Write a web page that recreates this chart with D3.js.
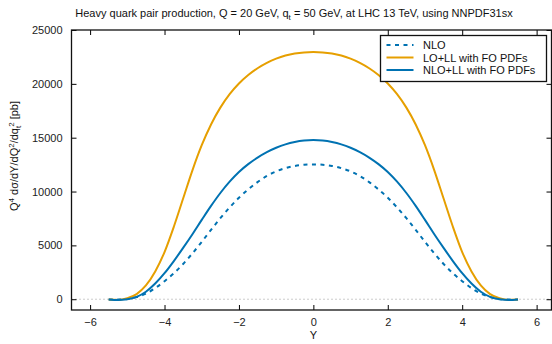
<!DOCTYPE html>
<html>
<head>
<meta charset="utf-8">
<script src="https://cdn.jsdelivr.net/npm/d3@7"></script>
<style>
  body { margin: 0; background: #fff; }
  svg { display: block; font-family: "Liberation Sans", Arial, sans-serif; }
</style>
</head>
<body>
<svg id="chart" width="552" height="344"></svg>
<script>
// Rapidity grid
const rapidity = [-5.5, -5.25, -5, -4.75, -4.5, -4.25, -4, -3.75, -3.5, -3.25, -3, -2.75, -2.5, -2.25, -2, -1.75, -1.5, -1.25, -1, -0.75, -0.5, -0.25,
  0, 0.25, 0.5, 0.75, 1, 1.25, 1.5, 1.75, 2, 2.25, 2.5, 2.75, 3, 3.25, 3.5, 3.75, 4, 4.25, 4.5, 4.75, 5, 5.25, 5.5];

// Series (pb)
const nlo = [-15, -35, 25, 195, 525, 1035, 1675, 2415, 3275, 4255, 5325, 6445, 7525, 8525, 9425, 10195, 10875, 11445, 11875, 12170, 12375, 12485,
  12520, 12485, 12375, 12170, 11875, 11445, 10875, 10195, 9425, 8525, 7525, 6445, 5325, 4255, 3275, 2415, 1675, 1035, 525, 195, 25, -35, -15];
const loll = [-20, -60, 100, 480, 1280, 2580, 4380, 6730, 9350, 11970, 14300, 16230, 17790, 19040, 20030, 20820, 21450, 21950, 22340, 22630, 22820, 22920,
  22950, 22920, 22820, 22630, 22340, 21950, 21450, 20820, 20030, 19040, 17790, 16230, 14300, 11970, 9350, 6730, 4380, 2580, 1280, 480, 100, -60, -20];
const nloll = [-15, -65, -5, 215, 695, 1455, 2415, 3545, 4765, 6035, 7365, 8665, 9865, 10915, 11815, 12545, 13155, 13660, 14065, 14380, 14600, 14735,
  14780, 14735, 14600, 14380, 14065, 13660, 13155, 12545, 11815, 10915, 9865, 8665, 7365, 6035, 4765, 3545, 2415, 1455, 695, 215, -5, -65, -15];

const seriesNames = ['NLO', 'LO+LL with FO PDFs', 'NLO+LL with FO PDFs'];
const xTicks = [-6, -4, -2, 0, 2, 4, 6];
const yTicks = [0, 5000, 10000, 15000, 20000, 25000];

const svg = d3.select('#chart');
const frame = { left: 71.5, right: 551.5, top: 30, bottom: 310 };

const x = d3.scaleLinear().domain([-6.5, 6.4]).range([frame.left, frame.right]);
const y = d3.scaleLinear().domain([-1000, 25000]).range([frame.bottom, frame.top]);

const series = [
  { name: seriesNames[0], values: nlo, color: '#0072B2', dash: '4,4.5' },
  { name: seriesNames[1], values: loll, color: '#E69F00', dash: null },
  { name: seriesNames[2], values: nloll, color: '#0072B2', dash: null }
];

svg.append('defs').append('clipPath').attr('id', 'clip')
  .append('rect')
  .attr('x', frame.left).attr('y', frame.top)
  .attr('width', frame.right - frame.left).attr('height', frame.bottom - frame.top);

// zero line
svg.append('line')
  .attr('x1', frame.left).attr('x2', frame.right)
  .attr('y1', y(0)).attr('y2', y(0))
  .attr('stroke', '#999').attr('stroke-width', 1)
  .attr('stroke-dasharray', '1,3');

// curves
const line = d3.line()
  .x((d, i) => x(rapidity[i]))
  .y(d => y(d))
  .curve(d3.curveMonotoneX);

const curves = svg.append('g').attr('clip-path', 'url(#clip)');
series.forEach(s => {
  curves.append('path')
    .attr('d', line(s.values))
    .attr('fill', 'none')
    .attr('stroke', s.color)
    .attr('stroke-width', 2)
    .attr('stroke-dasharray', s.dash);
});

// axes (ticks inward, mirrored)
const tickFont = g => g.selectAll('text')
  .attr('font-size', 11).attr('fill', '#222')
  .attr('font-family', '"Liberation Sans", Arial, sans-serif');

svg.append('g')
  .attr('transform', `translate(0,${frame.bottom})`)
  .call(d3.axisBottom(x).tickValues(xTicks).tickSizeInner(-5).tickSizeOuter(0).tickPadding(8))
  .call(g => g.select('.domain').remove())
  .call(tickFont);

svg.append('g')
  .attr('transform', `translate(0,${frame.top})`)
  .call(d3.axisTop(x).tickValues(xTicks).tickSizeInner(-5).tickSizeOuter(0).tickFormat(''))
  .call(g => g.select('.domain').remove());

svg.append('g')
  .attr('transform', `translate(${frame.left},0)`)
  .call(d3.axisLeft(y).tickValues(yTicks).tickSizeInner(-5).tickSizeOuter(0).tickPadding(9).tickFormat(d3.format('d')))
  .call(g => g.select('.domain').remove())
  .call(tickFont);

svg.append('g')
  .attr('transform', `translate(${frame.right},0)`)
  .call(d3.axisRight(y).tickValues(yTicks).tickSizeInner(-5).tickSizeOuter(0).tickFormat(''))
  .call(g => g.select('.domain').remove());

svg.append('rect')
  .attr('x', frame.left).attr('y', frame.top)
  .attr('width', frame.right - frame.left).attr('height', frame.bottom - frame.top)
  .attr('fill', 'none').attr('stroke', '#111').attr('stroke-width', 1.3);

// title
const title = svg.append('text')
  .attr('x', 294).attr('y', 17)
  .attr('text-anchor', 'middle')
  .attr('font-size', 11).attr('fill', '#111');
title.append('tspan').text('Heavy quark pair production, Q = 20 GeV, q');
title.append('tspan').attr('font-size', 8).attr('dy', 3).text('t');
title.append('tspan').attr('dy', -3).text(' = 50 GeV, at LHC 13 TeV, using NNPDF31sx');

// axis labels
svg.append('text')
  .attr('x', x(0)).attr('y', 339)
  .attr('text-anchor', 'middle')
  .attr('font-size', 11).attr('fill', '#111')
  .text('Y');

const ylab = svg.append('text')
  .attr('transform', 'translate(18,156) rotate(-90)')
  .attr('text-anchor', 'middle')
  .attr('font-size', 11).attr('fill', '#111');
ylab.append('tspan').text('Q');
ylab.append('tspan').attr('font-size', 8).attr('dy', -4).text('4');
ylab.append('tspan').attr('dy', 4).text(' dσ/dY/dQ');
ylab.append('tspan').attr('font-size', 8).attr('dy', -4).text('2');
ylab.append('tspan').attr('dy', 4).text('/dq');
ylab.append('tspan').attr('font-size', 8).attr('dy', 3).text('t');
ylab.append('tspan').attr('font-size', 8).attr('dy', -7).attr('dx', -1).text('2');
ylab.append('tspan').attr('dy', 4).text('  [pb]');

// legend
const legend = svg.append('g');
legend.append('rect')
  .attr('x', 380.5).attr('y', 35.5).attr('width', 166).attr('height', 46)
  .attr('fill', '#fff').attr('stroke', '#111').attr('stroke-width', 1.3);

series.forEach((s, i) => {
  const yy = 45 + i * 12.5;
  legend.append('line')
    .attr('x1', 386.5).attr('x2', 413.5)
    .attr('y1', yy).attr('y2', yy)
    .attr('stroke', s.color).attr('stroke-width', 2)
    .attr('stroke-dasharray', s.dash);
  legend.append('text')
    .attr('x', 423).attr('y', yy + 4)
    .attr('font-size', 11).attr('fill', '#111')
    .text(s.name);
});
</script>
</body>
</html>
